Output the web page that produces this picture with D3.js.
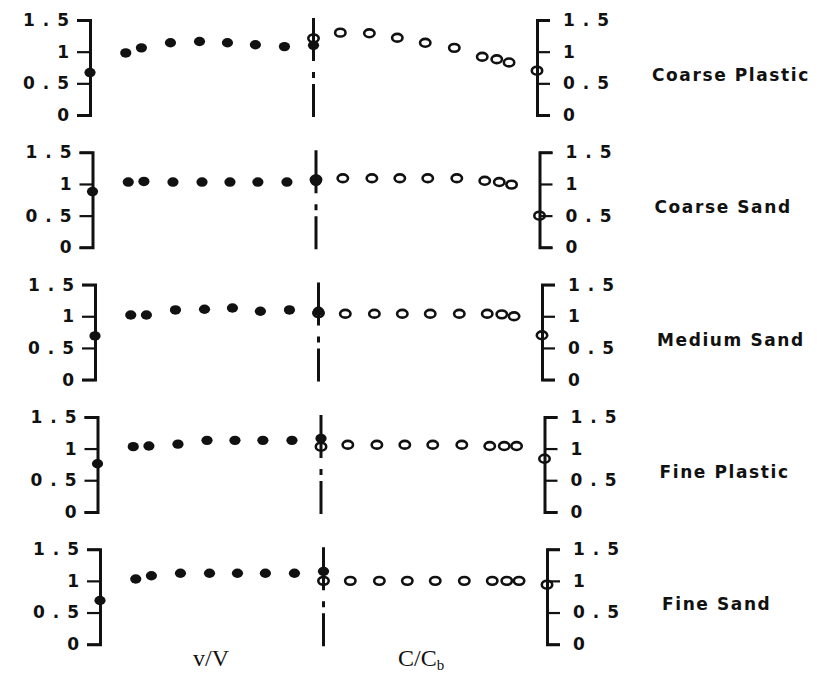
<!DOCTYPE html>
<html>
<head>
<meta charset="utf-8">
<script src="https://cdn.jsdelivr.net/npm/d3@7"></script>
<style>
  html, body { margin: 0; padding: 0; background: #fff; }
  svg { display: block; }
  .tick text { font-family: "DejaVu Sans", sans-serif; font-weight: bold; font-size: 17px; letter-spacing: 8px; fill: #111; }
  .domain { stroke: #111; stroke-width: 3; fill: none; }
  .tick line { stroke: #111; stroke-width: 2.2; }
  .panel-label { font-family: "DejaVu Sans", sans-serif; font-weight: bold; font-size: 17px; letter-spacing: 1.6px; fill: #111; }
  .axis-title { font-family: "Liberation Serif", "Times New Roman", serif; font-size: 24px; fill: #111; }
</style>
</head>
<body>
<div id="chart"></div>
<script>
// Materials, one panel each
const materials = ["Coarse Plastic", "Coarse Sand", "Medium Sand", "Fine Plastic", "Fine Sand"];

// Measuring stations: distance from the wall as a fraction of the half-width
const velStations = [0, 0.16, 0.23, 0.36, 0.49, 0.615, 0.74, 0.87, 1.0];            // from left wall
const concStations = [0, 0.125, 0.18, 0.245, 0.37, 0.5, 0.625, 0.75, 0.88, 1.0];   // from right wall

// Local velocity ratio v/V (filled markers)
const vCoarsePlastic = [0.67, 0.98, 1.06, 1.14, 1.16, 1.14, 1.11, 1.08, 1.10];
const vCoarseSand    = [0.88, 1.03, 1.04, 1.03, 1.03, 1.03, 1.03, 1.03, 1.04];
const vMediumSand    = [0.69, 1.02, 1.02, 1.10, 1.11, 1.13, 1.08, 1.10, 1.08];
const vFinePlastic   = [0.76, 1.03, 1.04, 1.07, 1.13, 1.13, 1.13, 1.13, 1.16];
const vFineSand      = [0.69, 1.03, 1.08, 1.12, 1.12, 1.12, 1.12, 1.12, 1.15];

// Local concentration ratio C/Cb (open markers)
const cCoarsePlastic = [0.70, 0.83, 0.88, 0.92, 1.06, 1.14, 1.22, 1.29, 1.30, 1.21];
const cCoarseSand    = [0.50, 0.99, 1.03, 1.05, 1.09, 1.09, 1.09, 1.09, 1.09, 1.07];
const cMediumSand    = [0.70, 1.00, 1.03, 1.04, 1.04, 1.04, 1.04, 1.04, 1.04, 1.05];
const cFinePlastic   = [0.84, 1.04, 1.04, 1.04, 1.06, 1.06, 1.06, 1.06, 1.06, 1.03];
const cFineSand      = [0.94, 1.00, 1.00, 1.00, 1.00, 1.00, 1.00, 1.00, 1.00, 1.00];

const velSeries = [vCoarsePlastic, vCoarseSand, vMediumSand, vFinePlastic, vFineSand];
const concSeries = [cCoarsePlastic, cCoarseSand, cMediumSand, cFinePlastic, cFineSand];

const yTicks = [0, 0.5, 1, 1.5];
const yTickLabels = ["0", "0.5", "1", "1.5"];

const W = 817, H = 675;
const top0 = 20, pitch = 132.3, panelH = 95;
const xLeft = 90, xRight = 537, drift = 2.5;

const svg = d3.select("#chart").append("svg")
  .attr("width", W).attr("height", H);

// Lateral position: 0 = left wall, 1 = centreline, 2 = right wall
const x = d3.scaleLinear().domain([0, 2]).range([xLeft, xRight]);

materials.forEach((name, i) => {
  const top = top0 + i * pitch;
  const g = svg.append("g").attr("transform", `translate(${i * drift},0)`);
  const y = d3.scaleLinear().domain([0, 1.5]).range([top + panelH, top]);
  const fmt = d => yTickLabels[yTicks.indexOf(d)];

  // centreline (dash-dot)
  g.append("line")
    .attr("x1", x(1)).attr("x2", x(1))
    .attr("y1", top - 2).attr("y2", top + panelH + 2)
    .attr("stroke", "#111").attr("stroke-width", 3)
    .attr("stroke-dasharray", "43 11 6 6 60");

  // left axis (v/V)
  g.append("g").attr("transform", `translate(${x(0)},0)`)
    .call(d3.axisLeft(y).tickValues(yTicks).tickFormat(fmt)
      .tickSize(13).tickSizeOuter(13).tickPadding(0));

  // right axis (C/Cb)
  g.append("g").attr("transform", `translate(${x(2)},0)`)
    .call(d3.axisRight(y).tickValues(yTicks).tickFormat(fmt)
      .tickSize(13).tickSizeOuter(13).tickPadding(13));

  // concentration: open markers
  g.selectAll("ellipse.conc").data(concSeries[i]).enter().append("ellipse")
    .attr("class", "conc")
    .attr("cx", (d, j) => x(2 - concStations[j]))
    .attr("cy", d => y(d))
    .attr("rx", 5.2).attr("ry", 3.9)
    .attr("fill", "none").attr("stroke", "#111").attr("stroke-width", 2.6);

  // velocity: filled markers
  g.selectAll("ellipse.vel").data(velSeries[i]).enter().append("ellipse")
    .attr("class", "vel")
    .attr("cx", (d, j) => x(velStations[j]))
    .attr("cy", d => y(d))
    .attr("rx", 5.6).attr("ry", 4.7)
    .attr("fill", "#111");

  // material name
  g.append("text").attr("class", "panel-label")
    .attr("x", 652).attr("y", top + 61)
    .text(name);
});

// bottom titles
svg.append("text").attr("class", "axis-title")
  .attr("x", 211).attr("y", 666).attr("text-anchor", "middle")
  .text("v/V");

const cTitle = svg.append("text").attr("class", "axis-title")
  .attr("x", 398).attr("y", 666);
cTitle.append("tspan").text("C/C");
cTitle.append("tspan").attr("dy", 4).attr("font-size", "15px").text("b");
</script>
</body>
</html>
